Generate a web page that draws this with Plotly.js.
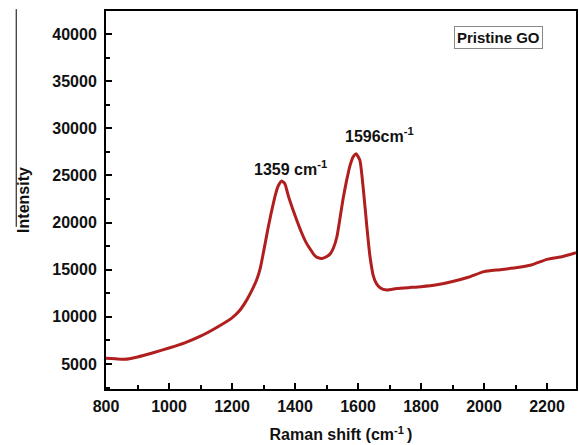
<!DOCTYPE html>
<html>
<head>
<meta charset="utf-8">
<script src="https://cdn.plot.ly/plotly-3.0.1.min.js"></script>
<style>html,body{margin:0;padding:0;background:#fff;}#chart{width:579px;height:445px;}</style>
</head>
<body>
<div id="chart"></div>
<script>
const ramanShift = [800,830,860,900,950,1000,1050,1100,1150,1200,1225,1247,1263,1278,1290,1299,1307,1315,1323,1331,1339,1347,1358,1368,1379,1392,1405,1420,1435,1448,1460,1470,1485,1501,1512,1522,1533,1543,1553,1564,1575,1585,1594,1606,1617,1628,1638,1649,1659,1670,1691,1723,1760,1800,1850,1900,1950,2000,2050,2100,2150,2200,2250,2292];
const intensity = [5600,5550,5500,5750,6200,6700,7250,7950,8850,9900,10700,11800,12800,13900,15200,16700,18100,19500,20800,22000,23100,23900,24400,24100,22800,21500,20300,19000,17900,17200,16600,16300,16200,16400,16700,17300,18500,20500,22600,24500,26100,27000,27300,26600,23500,19600,16400,14300,13500,13100,12850,13000,13100,13200,13400,13750,14200,14800,15000,15200,15500,16100,16400,16800];
const xTicks = [800,1000,1200,1400,1600,1800,2000,2200];
const yTicks = [5000,10000,15000,20000,25000,30000,35000,40000];
const peakLabels = ["1359 cm<sup>-1</sup>", "1596cm<sup>-1</sup>"];
const sampleName = "Pristine GO";

const font = {family: '"Liberation Sans", Arial, sans-serif', color: '#111'};
const bold = (s) => Object.assign({}, font, {size: s, weight: 'bold'});

const trace = {
  x: ramanShift, y: intensity, type: 'scatter', mode: 'lines',
  line: {color: '#b01e1e', width: 3, shape: 'spline', smoothing: 0.5},
  hoverinfo: 'skip'
};

const axisCommon = {
  showline: true, linecolor: '#000', linewidth: 2, mirror: true,
  ticks: 'inside', ticklen: 6, tickwidth: 2, tickcolor: '#000',
  showgrid: false, zeroline: false,
  tickfont: bold(16)
};

const layout = {
  width: 579, height: 445,
  margin: {l: 106, r: 3, t: 11, b: 56},
  paper_bgcolor: '#fff', plot_bgcolor: '#fff',
  showlegend: false,
  xaxis: Object.assign({}, axisCommon, {
    range: [800, 2292], tickvals: xTicks, ticktext: xTicks.map(String),
    ticklabelstandoff: 2,
    minor: {ticks: 'inside', dtick: 100, tick0: 800, ticklen: 4, tickwidth: 2, tickcolor: '#000'},
    title: {text: 'Raman shift (cm<sup>-1 </sup>)', font: bold(16), standoff: 15}
  }),
  yaxis: Object.assign({}, axisCommon, {
    range: [2349, 42440], tickvals: yTicks, ticktext: yTicks.map(String),
    ticklabelstandoff: 4,
    minor: {ticks: 'inside', dtick: 2500, tick0: 0, ticklen: 4, tickwidth: 2, tickcolor: '#000'},
    title: {text: 'Intensity', font: bold(16), standoff: 19}
  }),
  annotations: [
    {x: 1385, y: 25800, xref: 'x', yref: 'y', text: peakLabels[0], showarrow: false,
     xanchor: 'center', yanchor: 'middle', font: bold(16)},
    {x: 1667, y: 29300, xref: 'x', yref: 'y', text: peakLabels[1], showarrow: false,
     xanchor: 'center', yanchor: 'middle', font: bold(16)},
    {x: 0.836, y: 0.929, xref: 'paper', yref: 'paper', text: sampleName, showarrow: false,
     xanchor: 'center', yanchor: 'middle', font: bold(15),
     bordercolor: '#888', borderwidth: 1, borderpad: 2, bgcolor: '#fff'}
  ],
  shapes: [
    {type: 'line', xref: 'paper', yref: 'paper', x0: -0.191, x1: -0.191, y0: 1.005, y1: 0.429,
     line: {color: '#000', width: 1}}
  ]
};

Plotly.newPlot('chart', [trace], layout, {displayModeBar: false, staticPlot: true});
</script>
</body>
</html>
